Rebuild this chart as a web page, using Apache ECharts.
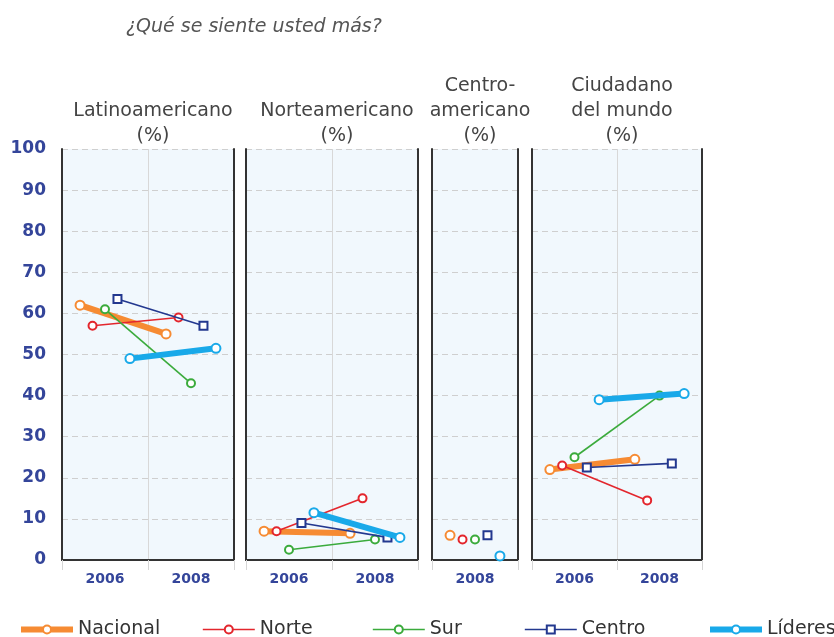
<!DOCTYPE html>
<html>
<head>
<meta charset="utf-8">
<script src="https://cdn.jsdelivr.net/npm/echarts@6/dist/echarts.min.js"></script>
<style>
    html, body { margin: 0; padding: 0; background: #fff; }
    #chart { width: 834px; height: 637px; }
</style>
</head>
<body>
<div id="chart"></div>
<script>
// data
const groups = ["Nacional", "Norte", "Sur", "Centro", "Líderes"];
const yearsTwo = ["2006", "2008"];
const yearsOne = ["2008"];

const latino2006 = [62, 57, 61, 63.5, 49];
const latino2008 = [55, 59, 43, 57, 51.5];
const norte2006 = [7, 7, 2.5, 9, 11.5];
const norte2008 = [6.5, 15, 5, 5.5, 5.5];
const centro2008 = [6, 5, 5, 6, 1];
const mundo2006 = [22, 23, 25, 22.5, 39];
const mundo2008 = [24.5, 14.5, 40, 23.5, 40.5];

const panelTitles = [
    "Latinoamericano\n(%)",
    "Norteamericano\n(%)",
    "Centro-\namericano\n(%)",
    "Ciudadano\ndel mundo\n(%)",
];

// styling
const colors = ["#f68b33", "#e3262d", "#3bab3c", "#23388f", "#19a9e9"];
const lineWidths = [6, 1.6, 1.6, 1.6, 6];
const symbols = ["emptyCircle", "emptyCircle", "emptyCircle", "emptyRect", "emptyCircle"];
const font = "DejaVu Sans";
const navy = "#34459a";
const slot = 0.145; // spread of groups inside a year

const panels = [
    { left: 62, width: 172, years: yearsTwo, values: [latino2006, latino2008] },
    { left: 246, width: 172, years: yearsTwo, values: [norte2006, norte2008] },
    { left: 432, width: 86, years: yearsOne, values: [centro2008] },
    { left: 532, width: 170, years: yearsTwo, values: [mundo2006, mundo2008] },
];

const grid = [];
const xAxis = [];
const yAxis = [];
const series = [];
const title = [
    {
        text: "¿Qué se siente usted más?",
        left: 121,
        top: 13,
        textStyle: { fontFamily: font, fontSize: 19, fontStyle: "italic", fontWeight: "normal", color: "#555" },
    },
];

panels.forEach((p, pi) => {
    grid.push({
        left: p.left,
        width: p.width,
        top: 149,
        height: 411,
        show: true,
        backgroundColor: "#f1f8fd",
        borderWidth: 0,
    });

    const lines = panelTitles[pi].split("\n").length;
    title.push({
        text: panelTitles[pi],
        left: p.left + p.width / 2,
        top: 144 - lines * 25,
        textAlign: "center",
        textStyle: { fontFamily: font, fontSize: 19, fontWeight: "normal", color: "#444", lineHeight: 25 },
    });

    // visible year axis
    xAxis.push({
        type: "category",
        gridIndex: pi,
        data: p.years,
        boundaryGap: true,
        axisLine: { onZero: false, lineStyle: { color: "#333", width: 2 } },
        axisTick: { show: true, length: 10, lineStyle: { color: "#d6d6d6" } },
        axisLabel: { fontFamily: font, fontSize: 14, fontWeight: "bold", color: navy, margin: 12 },
        splitLine: { show: true, lineStyle: { color: "#d8d8d8", width: 1 } },
    });
    // hidden axis used to place the markers
    xAxis.push({
        type: "value",
        gridIndex: pi,
        show: false,
        min: -0.5,
        max: p.years.length - 0.5,
        splitLine: { show: false },
    });

    yAxis.push({
        type: "value",
        gridIndex: pi,
        min: 0,
        max: 100,
        interval: 10,
        axisLine: { show: true, onZero: false, lineStyle: { color: "#333", width: 2 } },
        axisTick: { show: false },
        axisLabel: {
            show: pi === 0,
            fontFamily: font,
            fontSize: 17,
            fontWeight: "bold",
            color: navy,
            margin: 16,
        },
        splitLine: { show: true, lineStyle: { color: "#cfcfcf", type: [6, 4] } },
    });
    yAxis.push({
        type: "value",
        gridIndex: pi,
        position: "right",
        min: 0,
        max: 100,
        interval: 10,
        axisLine: { show: true, onZero: false, lineStyle: { color: "#333", width: 2 } },
        axisTick: { show: false },
        axisLabel: { show: false },
        splitLine: { show: false },
    });

    groups.forEach((name, k) => {
        series.push({
            name,
            type: "line",
            xAxisIndex: pi * 2 + 1,
            yAxisIndex: pi * 2,
            data: p.values.map((col, i) => [i + (k - 2) * slot, col[k]]),
            symbol: symbols[k],
            symbolSize: k === 0 || k === 4 ? 9 : 8,
            showAllSymbol: true,
            color: colors[k],
            lineStyle: { width: lineWidths[k], color: colors[k] },
            itemStyle: { color: colors[k], borderWidth: 2 },
            animation: false,
            z: 3 + k,
        });
    });
});

const legendLefts = [13, 197, 367, 519, 702];
const legend = groups.map((name, k) => ({
    data: [name],
    left: legendLefts[k],
    top: 615,
    itemWidth: 52,
    itemHeight: 10,
    lineStyle: { width: lineWidths[k] },
    textStyle: { fontFamily: font, fontSize: 19, color: "#333" },
}));

const chart = echarts.init(document.getElementById("chart"));
chart.setOption({
    animation: false,
    title,
    legend,
    grid,
    xAxis,
    yAxis,
    series,
});
</script>
</body>
</html>
